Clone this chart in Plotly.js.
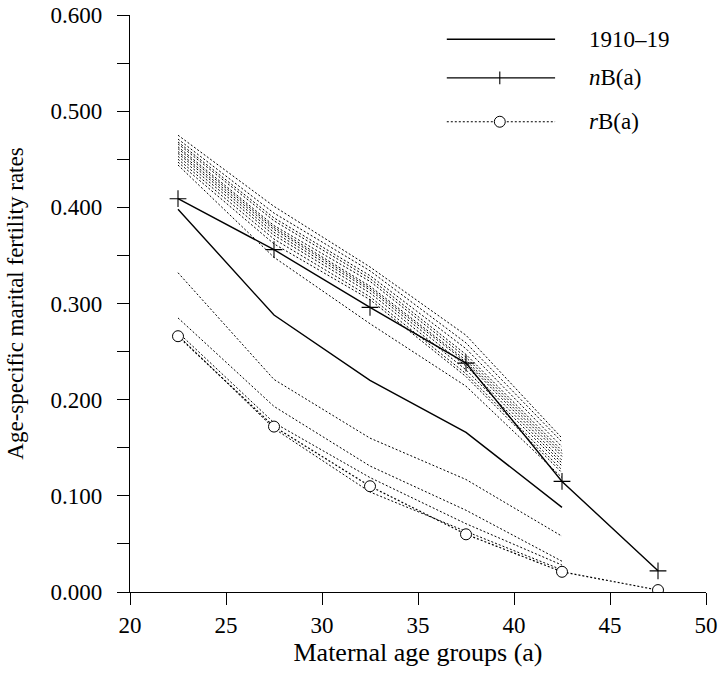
<!DOCTYPE html>
<html>
<head>
<meta charset="utf-8">
<script src="https://cdn.plot.ly/plotly-3.0.1.min.js"></script>
<style>html,body{margin:0;padding:0;background:#fff;}#chart{width:718px;height:674px;}</style>
</head>
<body>
<div id="chart"></div>
<script>
// Age group midpoints
const ages = [22.5, 27.5, 32.5, 37.5, 42.5];
const agesFull = [22.5, 27.5, 32.5, 37.5, 42.5, 47.5];

// Observed 1910–19
const obs1910 = [0.398, 0.288, 0.220, 0.166, 0.088];
// nB(a)
const nB = [0.409, 0.356, 0.296, 0.238, 0.115, 0.022];
// rB(a)
const rB = [0.266, 0.172, 0.110, 0.060, 0.021, 0.002];

// Upper cluster of dotted curves
const upper1  = [0.475, 0.401, 0.338, 0.267, 0.160];
const upper2  = [0.471, 0.394, 0.334, 0.259, 0.156];
const upper3  = [0.468, 0.389, 0.329, 0.253, 0.151];
const upper4  = [0.466, 0.386, 0.326, 0.247, 0.147];
const upper5  = [0.463, 0.381, 0.323, 0.244, 0.144];
const upper6  = [0.461, 0.379, 0.318, 0.241, 0.141];
const upper7  = [0.458, 0.377, 0.316, 0.239, 0.137];
const upper8  = [0.456, 0.374, 0.314, 0.235, 0.134];
const upper9  = [0.453, 0.371, 0.311, 0.231, 0.131];
const upper10 = [0.450, 0.367, 0.307, 0.227, 0.127];
const upper11 = [0.447, 0.362, 0.304, 0.224, 0.124];
const upper12 = [0.444, 0.348, 0.279, 0.214, 0.119];

// Lower cluster of dotted curves
const lower1 = [0.332, 0.221, 0.160, 0.117, 0.058];
const lower2 = [0.285, 0.193, 0.131, 0.085, 0.032];
const lower3 = [0.270, 0.176, 0.119, 0.071, 0.028];
const lower4 = [0.267, 0.170, 0.104, 0.063, 0.023];

const upperSets = [upper1, upper2, upper3, upper4, upper5, upper6, upper7, upper8, upper9, upper10, upper11, upper12];
const lowerSets = [lower1, lower2, lower3, lower4];

const xTicks = [20, 25, 30, 35, 40, 45, 50];
const yTicks = [0, 0.1, 0.2, 0.3, 0.4, 0.5, 0.6];

const legendLabels = ["1910–19", "<i>n</i>B(a)", "<i>r</i>B(a)"];

const FONT = 'Liberation Serif, Times New Roman, serif';
const FS = 23;

const dotLine = {color: '#000', width: 1, dash: '2px,2px'};
const traces = [];
upperSets.concat(lowerSets).forEach(s => {
  traces.push({x: ages, y: s, type: 'scatter', mode: 'lines', line: dotLine, hoverinfo: 'skip', showlegend: false});
});
traces.push({x: ages, y: obs1910, type: 'scatter', mode: 'lines', line: {color: '#000', width: 1.4}, showlegend: false});
traces.push({x: agesFull, y: nB, type: 'scatter', mode: 'lines+markers', line: {color: '#000', width: 1.4},
  marker: {symbol: 'cross-thin-open', size: 12, line: {color: '#000', width: 1.1}}, showlegend: false});
traces.push({x: agesFull, y: rB, type: 'scatter', mode: 'lines+markers', line: {color: '#000', width: 1.2, dash: '2px,2px'},
  marker: {symbol: 'circle', size: 11, color: '#fff', line: {color: '#000', width: 1}}, showlegend: false});

// legend drawn in paper coordinates
const lx0 = 0.550, lx1 = 0.738, lxm = 0.642, ltx = 0.793;
const ly = [0.958, 0.891, 0.815];
const shapes = [
  {type: 'line', xref: 'paper', yref: 'paper', x0: lx0, x1: lx1, y0: ly[0], y1: ly[0], line: {color: '#000', width: 1.4}},
  {type: 'line', xref: 'paper', yref: 'paper', x0: lx0, x1: lx1, y0: ly[1], y1: ly[1], line: {color: '#000', width: 1.4}},
  {type: 'line', xref: 'paper', yref: 'paper', x0: lxm, x1: lxm, y0: ly[1] - 0.011, y1: ly[1] + 0.011, line: {color: '#000', width: 1.1}},
  {type: 'line', xref: 'paper', yref: 'paper', x0: lx0, x1: lx1, y0: ly[2], y1: ly[2], line: {color: '#000', width: 1.2, dash: '2px,2px'}},
  {type: 'circle', xref: 'paper', yref: 'paper', x0: lxm - 0.0095, x1: lxm + 0.0095, y0: ly[2] - 0.0095, y1: ly[2] + 0.0095,
    fillcolor: '#fff', line: {color: '#000', width: 1}}
];
const annotations = legendLabels.map((t, i) => ({
  xref: 'paper', yref: 'paper', x: ltx, y: ly[i], text: t, showarrow: false, xanchor: 'left', yanchor: 'middle',
  font: {family: FONT, size: FS, color: '#000'}
}));

const layout = {
  width: 718, height: 674,
  margin: {l: 130, r: 12, t: 15, b: 82},
  paper_bgcolor: '#fff', plot_bgcolor: '#fff',
  font: {family: FONT, size: FS, color: '#000'},
  showlegend: false,
  xaxis: {
    range: [20, 50], tickvals: xTicks, ticktext: xTicks.map(String),
    showgrid: false, zeroline: false, showline: true, linecolor: '#000', linewidth: 1.2,
    ticks: 'outside', ticklen: 12, tickwidth: 1, tickcolor: '#000',
    tickfont: {size: FS},
    title: {text: 'Maternal age groups (a)', font: {size: 26}, standoff: 6},
    fixedrange: true
  },
  yaxis: {
    range: [0, 0.6], tickvals: yTicks, ticktext: yTicks.map(v => v.toFixed(3)),
    showgrid: false, zeroline: false, showline: true, linecolor: '#000', linewidth: 1.2,
    ticks: 'outside', ticklen: 12, tickwidth: 1, tickcolor: '#000',
    ticklabelstandoff: 10,
    tickfont: {size: FS},
    minor: {dtick: 0.05, ticks: 'outside', ticklen: 12, tickwidth: 1, tickcolor: '#000', showgrid: false},
    title: {text: 'Age-specific marital fertility rates', font: {size: FS}, standoff: 20},
    fixedrange: true
  },
  shapes: shapes,
  annotations: annotations
};

Plotly.newPlot('chart', traces, layout, {displayModeBar: false, staticPlot: true});
</script>
</body>
</html>
